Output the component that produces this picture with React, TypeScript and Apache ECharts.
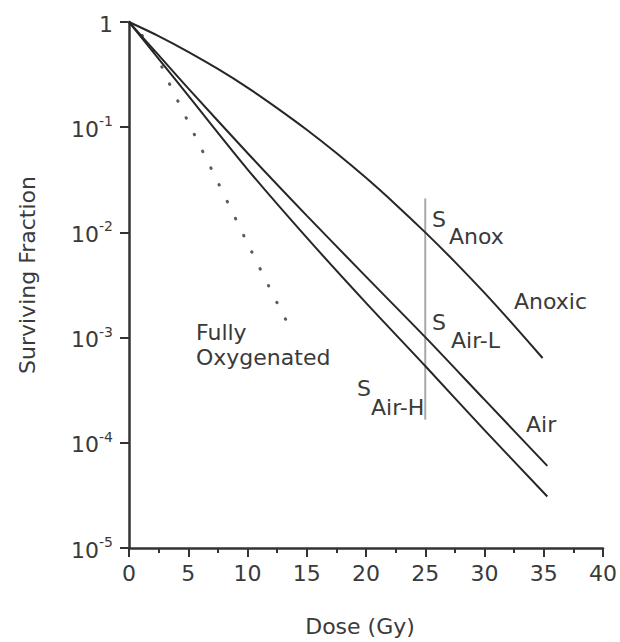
import React, { useEffect, useRef } from "react";
import * as echarts from "echarts";

const FONT = '"DejaVu Sans", "Liberation Sans", sans-serif';
const TEXT = "#3a3a3a";
const LINE = "#262626";

// Dose (Gy) and surviving fraction
const anoxicDose = [0, 2.5, 5, 7.5, 10, 12.5, 15, 17.5, 20, 22.5, 25, 27.5, 30, 32.5, 34.9];
const anoxicSF = [1, 0.735, 0.521, 0.358, 0.238, 0.152, 0.0946, 0.0568, 0.033, 0.01845, 0.01, 0.00525, 0.00266, 0.0013, 0.00064];

const airLDose = [0, 2.5, 5, 10, 15, 20, 25, 30, 35.3];
const airLSF = [1, 0.484, 0.234, 0.0569, 0.01445, 0.0038, 0.00101, 0.000257, 0.0000603];

const airHDose = [0, 2.5, 5, 10, 15, 20, 25, 30, 35.3];
const airHSF = [1, 0.447, 0.1995, 0.0398, 0.00891, 0.00214, 0.000537, 0.000132, 0.0000309];

const oxyDose = [0, 1.5, 2.6, 3.3, 5, 7.5, 10, 12.5, 13.8];
const oxySF = [1, 0.66, 0.41, 0.275, 0.112, 0.03, 0.0079, 0.00214, 0.00112];

const markerDose = [25, 25];
const markerSF = [0.021, 0.000166];

const xTicks = { min: 0, max: 40, interval: 5 };
const yRange = { min: 0.00001, max: 1 };

const pairs = (xs: number[], ys: number[]) => xs.map((x, i) => [x, ys[i]]);

function label(text: string, x: number, y: number) {
  return {
    type: "text",
    x,
    y,
    style: {
      text,
      fontFamily: FONT,
      fontSize: 22,
      fill: TEXT,
      textAlign: "left",
      textVerticalAlign: "middle",
    },
  };
}

// "S" with an offset subscript, drawn as one rich text block
function sLabel(sub: string, x: number, yS: number, lineH: number, indent: number) {
  return {
    type: "text",
    x,
    y: yS - lineH / 2,
    style: {
      text: `{a|S}\n{b|${sub}}`,
      textAlign: "left",
      textVerticalAlign: "top",
      rich: {
        a: { fontFamily: FONT, fontSize: 22, fill: TEXT, color: TEXT, lineHeight: lineH },
        b: { fontFamily: FONT, fontSize: 22, fill: TEXT, color: TEXT, lineHeight: lineH, padding: [0, 0, 0, indent] },
      },
    },
  };
}

export default function App() {
  const ref = useRef<HTMLDivElement>(null);

  useEffect(() => {
    if (!ref.current) return;
    const chart = echarts.init(ref.current, undefined, { renderer: "svg" });
    const curve = (name: string, xs: number[], ys: number[]) => ({
      name,
      type: "line",
      data: pairs(xs, ys),
      showSymbol: false,
      smooth: 0.3,
      lineStyle: { color: LINE, width: 2 },
      z: 3,
    });
    const option: any = {
      animation: false,
      grid: { left: 129, right: 16, top: 22, bottom: 94, containLabel: false },
      xAxis: {
        type: "value",
        min: xTicks.min,
        max: xTicks.max,
        interval: xTicks.interval,
        axisLine: { show: true, onZero: false, lineStyle: { color: "#333", width: 2.5 } },
        axisTick: { show: true, length: 9, lineStyle: { color: "#333", width: 2 } },
        minorTick: { show: true, splitNumber: 2, length: 5, lineStyle: { color: "#333", width: 2 } },
        splitLine: { show: false },
        minorSplitLine: { show: false },
        axisLabel: { fontFamily: FONT, fontSize: 22, color: TEXT, margin: 14 },
      },
      yAxis: {
        type: "log",
        logBase: 10,
        min: yRange.min,
        max: yRange.max,
        axisLine: { show: true, onZero: false, lineStyle: { color: "#333", width: 2.5 } },
        axisTick: { show: true, length: 9, lineStyle: { color: "#333", width: 2 } },
        splitLine: { show: false },
        axisLabel: {
          margin: 16,
          formatter: (v: number) => {
            const e = Math.round(Math.log10(v));
            return e === 0 ? "{b|1}" : `{b|10}{s|${e}}`;
          },
          rich: {
            b: { fontFamily: FONT, fontSize: 22, color: TEXT, lineHeight: 26, verticalAlign: "bottom" },
            s: { fontFamily: FONT, fontSize: 14, color: TEXT, lineHeight: 14, verticalAlign: "top" },
          },
        },
      },
      series: [
        curve("Anoxic", anoxicDose, anoxicSF),
        curve("Air-L", airLDose, airLSF),
        curve("Air-H", airHDose, airHSF),
        {
          name: "Fully Oxygenated",
          type: "line",
          data: pairs(oxyDose, oxySF),
          showSymbol: false,
          smooth: 0.3,
          lineStyle: { color: "#5a5a5a", width: 3, type: [0.5, 18.2], cap: "round" },
          z: 2,
        },
        {
          name: "S marker",
          type: "line",
          data: pairs(markerDose, markerSF),
          showSymbol: false,
          lineStyle: { color: "#a8a8a8", width: 2 },
          z: 2,
        },
      ],
      graphic: [
        sLabel("Anox", 432, 219, 17, 17),
        sLabel("Air-L", 432, 322.5, 17.5, 19),
        sLabel("Air-H", 357, 388.5, 19, 14),
        label("Anoxic", 514, 301),
        label("Air", 526, 424),
        label("Fully", 196, 332.5),
        label("Oxygenated", 196, 357),
        {
          type: "text",
          x: 360,
          y: 626,
          style: { text: "Dose (Gy)", fontFamily: FONT, fontSize: 22, fill: TEXT, textAlign: "center", textVerticalAlign: "middle" },
        },
        {
          type: "text",
          x: 27,
          y: 275,
          rotation: Math.PI / 2,
          style: { text: "Surviving Fraction", fontFamily: FONT, fontSize: 22, fill: TEXT, textAlign: "center", textVerticalAlign: "middle" },
        },
      ],
    };
    chart.setOption(option);
    return () => chart.dispose();
  }, []);

  return (
    <div
      ref={ref}
      style={{ position: "fixed", left: 0, top: 0, width: 620, height: 642, background: "#fff" }}
    />
  );
}
